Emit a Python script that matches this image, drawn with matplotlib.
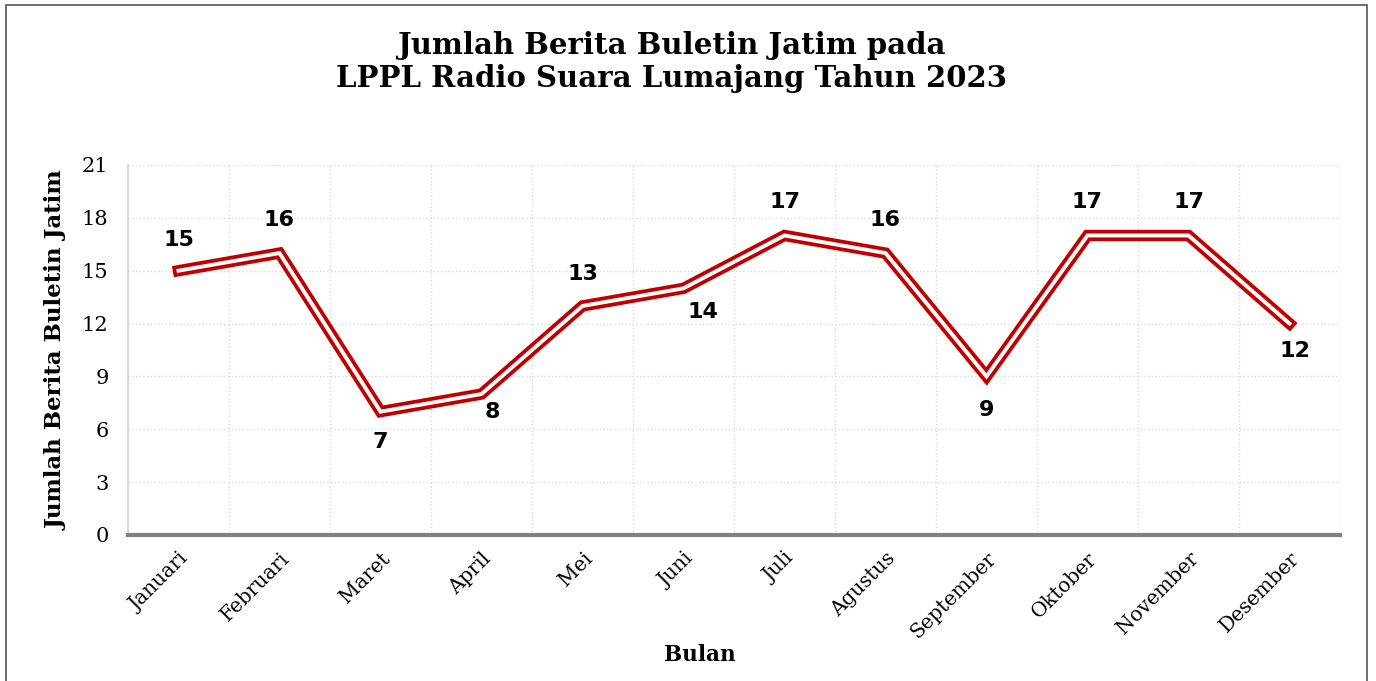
import numpy as np
import matplotlib.pyplot as plt
from matplotlib.patches import Rectangle

bulan = ['Januari', 'Februari', 'Maret', 'April', 'Mei', 'Juni', 'Juli',
         'Agustus', 'September', 'Oktober', 'November', 'Desember']
jumlah = [15, 16, 7, 8, 13, 14, 17, 16, 9, 17, 17, 12]
# label offsets (points) relative to each data point
label_dx = [0, 0, 0, 8, 0, 14, 0, 0, 0, 0, 0, 4]
label_dy = [22, 24, -22, -13, 23, -17, 24, 24, -24, 24, 24, -20]

plt.rcParams['font.family'] = 'DejaVu Serif'

fig = plt.figure(figsize=(13.76, 6.81), dpi=100)
ax = fig.add_axes([128/1376, 1 - 535/681, (1340-128)/1376, (535-165)/681])

x = np.arange(len(bulan))
ax.plot(x, jumlah, color='#c00000', linewidth=8.2, solid_joinstyle='miter', zorder=3)
ax.plot(x, jumlah, color='white', linewidth=2.8, solid_joinstyle='miter', zorder=4)

for i, v in enumerate(jumlah):
    ax.annotate(str(v), (x[i], v), xytext=(label_dx[i], label_dy[i]),
                textcoords='offset points', ha='center', va='center',
                fontsize=16, fontweight='bold', family='DejaVu Sans', zorder=5)

ax.set_xlim(-0.5, 11.5)
ax.set_ylim(0, 21)
ax.set_yticks(np.arange(0, 22, 3))
ax.set_xticks(x)
ax.set_xticklabels(bulan, rotation=45, ha='right', rotation_mode='anchor', fontsize=14.5)
ax.set_xticks(np.arange(-0.5, 12, 1), minor=True)
ax.tick_params(axis='both', which='both', length=0)
ax.tick_params(axis='y', labelsize=15, pad=14)
ax.tick_params(axis='x', pad=10)

ax.grid(True, which='minor', axis='x', color='#d9d9d9', linestyle=':', linewidth=1)
ax.grid(True, which='major', axis='y', color='#d9d9d9', linestyle=':', linewidth=1)
ax.set_axisbelow(True)

for s in ['top', 'right']:
    ax.spines[s].set_visible(False)
ax.spines['left'].set_color('#d9d9d9')
ax.spines['left'].set_linewidth(1.5)
ax.spines['bottom'].set_color('#808080')
ax.spines['bottom'].set_linewidth(3)

ax.set_ylabel('Jumlah Berita Buletin Jatim', fontsize=16.5, fontweight='bold', labelpad=10)
ax.set_xlabel('Bulan', fontsize=15.5, fontweight='bold', labelpad=8)
ax.xaxis.set_label_coords((700 - 128) / (1340 - 128), -0.295)

fig.text(671/1376, 1 - 62/681, 'Jumlah Berita Buletin Jatim pada\nLPPL Radio Suara Lumajang Tahun 2023',
         ha='center', va='center', fontsize=21, fontweight='bold', linespacing=1.15)

fig.patches.append(Rectangle((6/1376, -0.05), (1367-6)/1376, 1.05 - 5/681,
                             transform=fig.transFigure, fill=False,
                             edgecolor='#555555', linewidth=1.2))

plt.savefig('out.png', dpi=100)
